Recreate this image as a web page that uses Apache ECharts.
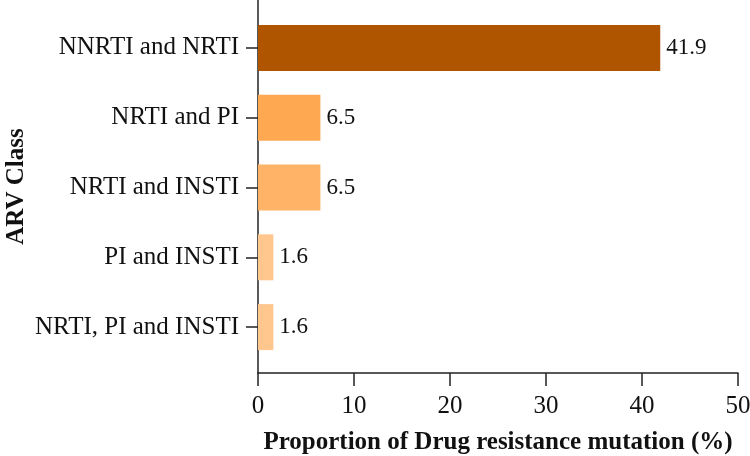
<!DOCTYPE html>
<html>
<head>
<meta charset="utf-8">
<script src="https://cdn.jsdelivr.net/npm/echarts@6/dist/echarts.min.js"></script>
<style>html,body{margin:0;padding:0;background:#fff;}#c{width:750px;height:456px;}</style>
</head>
<body>
<div id="c"></div>
<script>
const categories = ["NNRTI and NRTI", "NRTI and PI", "NRTI and INSTI", "PI and INSTI", "NRTI, PI and INSTI"];
const values = [41.9, 6.5, 6.5, 1.6, 1.6];
const xTicks = [0, 10, 20, 30, 40, 50];
const xTitle = "Proportion of Drug resistance mutation (%)";
const yTitle = "ARV Class";

const barColors = ["#AF5500", "#FFA852", "#FFB367", "#FFC68E", "#FFC68E"];
const font = "'Liberation Serif', 'Times New Roman', serif";
const chart = echarts.init(document.getElementById('c'), null, {renderer: 'canvas'});
chart.setOption({
  animation: false,
  backgroundColor: '#fff',
  textStyle: {fontFamily: font},
  grid: [
    {left: 258, right: 12, top: 13, bottom: 94, containLabel: false, outerBoundsMode: 'none'},
    {left: 258, right: 12, top: 0, bottom: 83, containLabel: false, outerBoundsMode: 'none'}
  ],
  xAxis: [
    {gridIndex: 0, type: 'value', min: xTicks[0], max: xTicks[xTicks.length - 1], show: false},
    {gridIndex: 1, type: 'value', min: xTicks[0], max: xTicks[xTicks.length - 1], interval: 10,
     axisLine: {show: true, lineStyle: {color: '#222', width: 1.5}},
     axisTick: {show: true, length: 13, lineStyle: {color: '#222', width: 1.5}},
     axisLabel: {color: '#111', fontSize: 25, fontFamily: font, margin: 21},
     splitLine: {show: false},
     name: xTitle, nameLocation: 'middle', nameGap: 57,
     nameTextStyle: {color: '#111', fontSize: 25, fontWeight: 'bold', fontFamily: font}}
  ],
  yAxis: [
    {gridIndex: 0, type: 'category', inverse: true, data: categories,
     axisLine: {show: false},
     axisTick: {show: true, alignWithLabel: true, length: 12, lineStyle: {color: '#222', width: 1.5}},
     axisLabel: {color: '#111', fontSize: 25, fontFamily: font, margin: 19},
     splitLine: {show: false}},
    {gridIndex: 1, type: 'value', min: 0, max: 1,
     axisLine: {show: true, lineStyle: {color: '#222', width: 1.5}},
     axisTick: {show: false}, axisLabel: {show: false}, splitLine: {show: false},
     name: yTitle, nameLocation: 'middle', nameGap: 229, nameRotate: 90,
     nameTextStyle: {color: '#111', fontSize: 25, fontWeight: 'bold', fontFamily: font}}
  ],
  series: [{
    type: 'bar', xAxisIndex: 0, yAxisIndex: 0,
    data: values,
    barWidth: 46,
    itemStyle: {color: p => barColors[p.dataIndex]},
    label: {show: true, position: 'right', distance: 6, color: '#111', fontSize: 23, fontFamily: font,
            formatter: p => p.value.toFixed(1)}
  }]
});
</script>
</body>
</html>
